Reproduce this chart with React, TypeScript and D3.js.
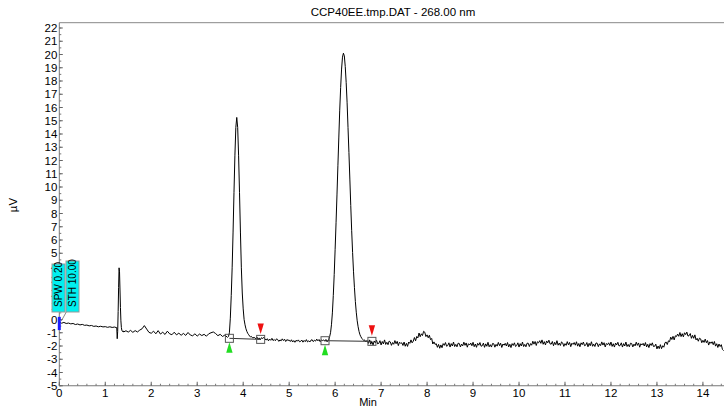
import React from 'react'
import * as d3 from 'd3'

// chromatogram: CCP40EE.tmp.DAT @ 268 nm
const title = 'CCP40EE.tmp.DAT - 268.00 nm'
const xTicks = [0, 1, 2, 3, 4, 5, 6, 7, 8, 9, 10, 11, 12, 13, 14]
const yTicks = [-5, -4, -3, -2, -1, 0, 1, 2, 3, 4, 5, 6, 7, 8, 9, 10, 11, 12, 13, 14, 15, 16, 17, 18, 19, 20, 21, 22]

const baseStart = [-0.20, -0.28, -0.22, -0.30, -0.27, -0.33, -0.30, -0.38, -0.34, -0.41, -0.37, -0.44, -0.42,
  -0.48, -0.45, -0.52, -0.49, -0.55, -0.51, -0.56, -0.54, -0.59, -0.55, -0.60, -0.57, -0.62] // 0.00–1.25, 0.05
const spike = [-1.45, -0.9, 0.6, 2.4, 3.9, 3.6, 2.3, 0.9, -0.1, -0.6, -0.8, -0.88, -0.92, -0.86, -0.94] // 1.26–1.40, 0.01
const baseMid = [-0.85, -0.95, -0.82, -0.97, -0.84, -0.94, -0.80, -0.70, -0.46, -0.72, -0.97, -1.04, -0.88, -1.08,
  -0.84, -1.10, -0.96, -1.13, -0.88, -1.08, -1.15, -0.96, -1.16, -1.03, -1.19, -1.05, -1.20, -0.98, -1.17, -1.23,
  -1.08, -1.25, -1.10, -1.21, -1.12, -1.26, -1.08, -1.00, -0.94, -1.06, -1.22, -1.12, -1.28, -1.18, -1.32] // 1.45–3.65, 0.05
const peak1 = [-1.35, -1.28, -1.0, 0.1, 1.8, 3.9, 6.6, 9.6, 12.4, 14.5, 15.25, 14.5, 12.4, 9.6, 6.6, 3.9, 2.0, 0.8,
  0.0, -0.4, -0.7, -0.9, -1.05, -1.15, -1.25, -1.32, -1.28, -1.38] // 3.66–4.20, 0.02
const baseBetween = [
  -1.36, -1.46, -1.33, -1.50, -1.39, -1.52, -1.37, -1.44, -1.34, -1.48,
  -1.55, -1.45, -1.61, -1.48, -1.57, -1.42, -1.59, -1.51, -1.60, -1.46,
  -1.51, -1.65, -1.54, -1.61, -1.46, -1.59, -1.49, -1.66, -1.52, -1.57,
  -1.56, -1.66, -1.53, -1.70, -1.59, -1.72, -1.57, -1.64, -1.54, -1.68,
  -1.65, -1.55, -1.71, -1.58, -1.67, -1.52, -1.69, -1.61, -1.70, -1.56,
  -1.53, -1.67, -1.56, -1.63, -1.48, -1.61, -1.51, -1.68, -1.54, -1.59,
  -1.54, -1.64, -1.51, -1.68, -1.57] // 4.25–5.85, 0.025
const peak2 = [-1.55, -1.3, -1.0, -0.4, 0.5, 1.8, 3.4, 5.3, 7.3, 9.4, 11.6, 13.7, 15.8, 17.5, 18.9, 19.8, 20.1, 19.9,
  19.1, 17.9, 16.4, 14.5, 12.6, 10.6, 8.6, 6.7, 5.05, 3.6, 2.4, 1.35, 0.55, -0.1, -0.55, -0.9, -1.15, -1.3, -1.42,
  -1.5, -1.58, -1.54, -1.66] // 5.86–6.66, 0.02
const baseEnd = [
  -1.60, -1.80, -1.54, -1.87, -1.67, -1.92, -1.62, -1.76, -1.56, -1.84,
  -1.80, -1.60, -1.92, -1.66, -1.84, -1.54, -1.88, -1.72, -1.90, -1.63,
  -1.69, -1.95, -1.74, -1.87, -1.59, -1.83, -1.65, -1.97, -1.71, -1.80,
  -1.76, -1.96, -1.70, -2.02, -1.80, -2.03, -1.70, -1.80, -1.54, -1.76,
  -1.63, -1.36, -1.61, -1.28, -1.39, -1.02, -1.30, -1.08, -1.21, -0.89,
  -0.96, -1.29, -1.16, -1.38, -1.19, -1.52, -1.43, -1.85, -1.69, -1.88,
  -1.83, -2.10, -1.88, -2.17, -1.92, -2.13, -1.82, -1.95, -1.74, -2.02,
  -1.96, -1.76, -2.08, -1.82, -2.00, -1.70, -2.04, -1.88, -2.06, -1.79,
  -1.81, -2.07, -1.86, -1.99, -1.71, -1.95, -1.77, -2.09, -1.83, -1.92,
  -1.78, -1.98, -1.72, -2.05, -1.85, -2.10, -1.80, -1.94, -1.74, -2.02,
  -1.98, -1.78, -2.10, -1.84, -2.02, -1.72, -2.06, -1.90, -2.08, -1.81,
  -1.83, -2.09, -1.88, -2.01, -1.73, -1.97, -1.79, -2.11, -1.85, -1.94,
  -1.80, -2.00, -1.74, -2.07, -1.87, -2.12, -1.82, -1.96, -1.76, -2.04,
  -1.96, -1.76, -2.08, -1.82, -2.00, -1.70, -2.04, -1.88, -2.06, -1.79,
  -1.79, -2.04, -1.82, -1.94, -1.64, -1.86, -1.66, -1.96, -1.68, -1.76,
  -1.60, -1.80, -1.54, -1.87, -1.67, -1.92, -1.62, -1.76, -1.56, -1.84,
  -1.86, -1.66, -1.98, -1.72, -1.90, -1.60, -1.94, -1.78, -1.96, -1.69,
  -1.77, -2.03, -1.82, -1.95, -1.67, -1.91, -1.73, -2.05, -1.79, -1.88,
  -1.74, -1.94, -1.68, -2.01, -1.81, -2.06, -1.76, -1.90, -1.70, -1.98,
  -1.94, -1.74, -2.06, -1.80, -1.98, -1.68, -2.02, -1.86, -2.04, -1.77,
  -1.79, -2.05, -1.84, -1.97, -1.69, -1.93, -1.75, -2.07, -1.81, -1.90,
  -1.76, -1.96, -1.70, -2.03, -1.83, -2.08, -1.78, -1.92, -1.72, -2.00,
  -1.96, -1.76, -2.08, -1.82, -2.00, -1.70, -2.04, -1.88, -2.06, -1.79,
  -1.81, -2.07, -1.86, -1.99, -1.71, -1.95, -1.77, -2.09, -1.83, -1.92,
  -1.80, -2.00, -1.74, -2.07, -1.87, -2.12, -1.82, -1.96, -1.76, -2.04,
  -2.02, -1.86, -2.22, -2.00, -2.20, -1.90, -2.20, -1.98, -2.09, -1.75,
  -1.70, -1.89, -1.61, -1.67, -1.33, -1.51, -1.27, -1.54, -1.23, -1.28,
  -1.10, -1.27, -0.98, -1.29, -1.07, -1.31, -1.00, -1.14, -0.95, -1.25,
  -1.22, -1.06, -1.42, -1.20, -1.42, -1.16, -1.54, -1.42, -1.64, -1.41,
  -1.46, -1.75, -1.57, -1.73, -1.48, -1.75, -1.59, -1.93, -1.69, -1.80,
  -1.68, -1.90, -1.66, -2.01, -1.83, -2.11, -1.85, -2.04, -1.90, -2.26,
  -2.35] // 6.70–14.45, 0.025

const blocks = [
  { t0: 0, dt: 0.05, v: baseStart },
  { t0: 1.26, dt: 0.01, v: spike },
  { t0: 1.45, dt: 0.05, v: baseMid },
  { t0: 3.66, dt: 0.02, v: peak1 },
  { t0: 4.25, dt: 0.025, v: baseBetween },
  { t0: 5.86, dt: 0.02, v: peak2 },
  { t0: 6.70, dt: 0.025, v: baseEnd },
]

// integration events
const peakStart = [3.70, 5.78]
const peakStartLevel = [-1.42, -1.60]
const peakEnd = [4.38, 6.80]
const peakEndLevel = [-1.50, -1.65]
const eventLabels = ['SPW 0.20', 'STH 10.00']

const W = 724
const H = 407
const FONT = '"Liberation Sans", Arial, sans-serif'

export default function App() {
  const x = d3.scaleLinear().domain([0, 14.45]).range([59.3, 723.6])
  const y = d3.scaleLinear().domain([-5, 22.4]).range([385.75, 22.7])

  const pts: [number, number][] = blocks.flatMap(b => b.v.map((v, i) => [b.t0 + i * b.dt, v] as [number, number]))
  const line = d3.line<[number, number]>().x(d => x(d[0])).y(d => y(d[1]))

  const minorX = d3.range(0, 14.45, 0.2)
  const minorY = d3.range(-5, 22.01, 0.5)
  const x0 = x(0)
  const yb = y(-5)

  return (
    <svg width={W} height={H} style={{ position: 'absolute', left: 0, top: 0, fontFamily: FONT }}>
      <rect width={W} height={H} fill="#fff" />
      <text x={393} y={16} textAnchor="middle" fontSize={11.5}>{title}</text>
      {/* frame */}
      <line x1={x0} x2={W} y1={22.7} y2={22.7} stroke="#888" />
      <line x1={x0} x2={x0} y1={22.7} y2={yb} stroke="#777" />
      <line x1={x0} x2={W} y1={yb} y2={yb} stroke="#777" />
      {minorY.map(v => (
        <line key={'my' + v} x1={x0} x2={x0 + 2} y1={y(v)} y2={y(v)} stroke="#777" />
      ))}
      {yTicks.map(v => (
        <g key={'y' + v}>
          <line x1={x0} x2={x0 + 3.5} y1={y(v)} y2={y(v)} stroke="#666" />
          <text x={x0 - 2} y={y(v) + 4} textAnchor="end" fontSize={11.5}>{v}</text>
        </g>
      ))}
      {minorX.map(v => (
        <line key={'mx' + v} x1={x(v)} x2={x(v)} y1={yb} y2={yb - 2} stroke="#777" />
      ))}
      {xTicks.map(v => (
        <g key={'x' + v}>
          <line x1={x(v)} x2={x(v)} y1={yb} y2={yb - 4} stroke="#666" />
          <text x={x(v)} y={yb + 11} textAnchor="middle" fontSize={11.5}>{v}</text>
        </g>
      ))}
      <text x={368} y={406} textAnchor="middle" fontSize={11}>Min</text>
      <text transform={`translate(17,205) rotate(-90)`} textAnchor="middle" fontSize={11.5}>µV</text>

      {/* trace */}
      <path d={line(pts) ?? ''} fill="none" stroke="#000" strokeWidth={1} />

      {/* peak baselines and event markers */}
      {peakStart.map((t, i) => {
        const xa = x(t), ya = y(peakStartLevel[i])
        const xb = x(peakEnd[i]), yb2 = y(peakEndLevel[i])
        return (
          <g key={'pk' + i}>
            <line x1={xa} y1={ya} x2={xb} y2={yb2} stroke="#333" />
            <rect x={xa - 4} y={ya - 4} width={8} height={8} fill="none" stroke="#555" />
            <rect x={xb - 4} y={yb2 - 4} width={8} height={8} fill="none" stroke="#555" />
            <path d={`M${xa},${ya + 4} L${xa + 3.2},${ya + 14.5} L${xa - 3.2},${ya + 14.5} Z`} fill="#22dd22" />
            <path d={`M${xb},${yb2 - 5.5} L${xb + 3.2},${yb2 - 16} L${xb - 3.2},${yb2 - 16} Z`} fill="#ee1111" />
          </g>
        )
      })}

      {/* event flags at t = 0 */}
      <rect x={x0 - 1.5} y={y(0.2)} width={3} height={y(-0.8) - y(0.2)} fill="#1c1cff" />
      <line x1={x0 + 7} y1={312} x2={x0 + 2} y2={321} stroke="#888" />
      <rect x={x0 - 7.3} y={264} width={13} height={48} fill="#00f0f0" stroke="#999" />
      <rect x={x0 + 6.7} y={261} width={13} height={51} fill="#00f0f0" stroke="#999" />
      {eventLabels.map((s, i) => (
        <text key={s} transform={`translate(${x0 - 0.8 + i * 14 + 3.6},${307 - 0}) rotate(-90)`} fontSize={10}>{s}</text>
      ))}
    </svg>
  )
}
